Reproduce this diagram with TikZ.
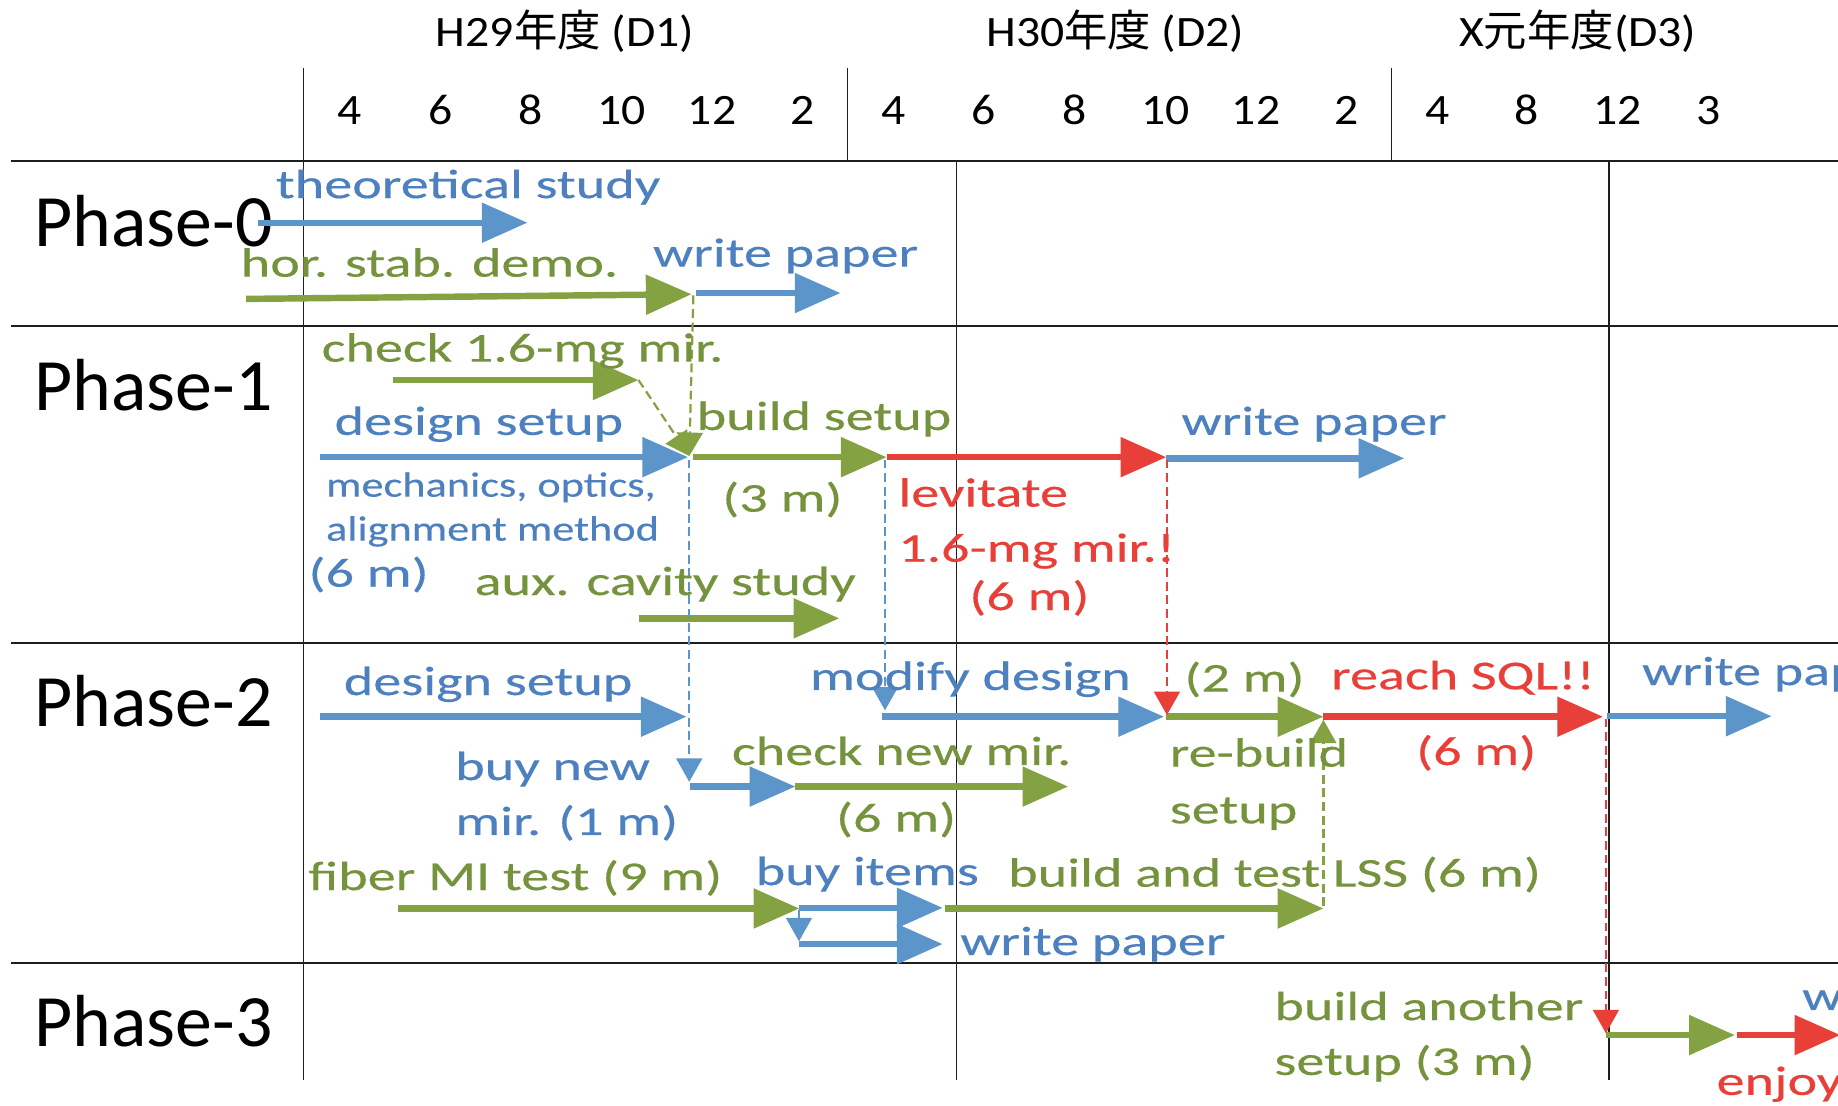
\documentclass[tikz,border=0pt]{standalone}
\usepackage{fontspec}
\setmainfont{Carlito}
\newfontfamily\headfont[FakeStretch=1.1]{Carlito}
\newfontfamily\jpfont{Noto Sans CJK JP}
\newfontfamily\taskfont[FakeStretch=1.37,FakeBold=0.3]{Carlito}
\newfontfamily\notefont[FakeStretch=1.26,FakeBold=0.3]{Carlito}
\usetikzlibrary{arrows.meta}

\definecolor{bluearr}{RGB}{91,149,201}
\definecolor{bluetxt}{RGB}{77,128,190}
\definecolor{greenarr}{RGB}{132,162,66}
\definecolor{greentxt}{RGB}{117,146,60}
\definecolor{redarr}{RGB}{232,64,56}
\definecolor{gridcol}{RGB}{30,30,30}

\tikzset{
  head/.style={inner sep=0pt, anchor=base, font=\headfont\fontsize{18.5}{22}\selectfont},
  month/.style={inner sep=0pt, anchor=base, font=\headfont\fontsize{18.5}{22}\selectfont},
  phaselbl/.style={inner sep=0pt, anchor=base west, font=\fontsize{31.5}{36}\selectfont},
  task/.style={inner sep=0pt, anchor=base west, font=\taskfont\fontsize{17.5}{21}\selectfont},
  note/.style={inner sep=0pt, anchor=base west, font=\notefont\fontsize{15}{18}\selectfont},
  bluelbl/.style={task, text=bluetxt},
  greenlbl/.style={task, text=greentxt},
  redlbl/.style={task, text=redarr},
  bar/.style={line width=2.75pt, -{Triangle[length=19.5pt,width=16.5pt]}},
  link/.style={line width=0.95pt, dash pattern=on 3.8pt off 2pt, -{Triangle[length=10pt,width=11pt]}},
  gridline/.style={draw=gridcol, line width=0.7pt},
  phaseline/.style={draw=gridcol, line width=1.1pt},
}

\begin{document}
\begin{tikzpicture}[x=0.5pt, y=-0.5pt]
\useasboundingbox (0,0) rectangle (1568,943);
\fill[white] (0,0) rectangle (1568,943);
\clip (0,0) rectangle (1568,943);

% ---- table grid ----
\draw[gridline] (259,57.7) -- (259,921);
\draw[gridline] (723,57.7) -- (723,137);
\draw[gridline] (1187,57.7) -- (1187,137);
\draw[gridline] (816,137) -- (816,921);
\draw[gridline] (1372.5,137) -- (1372.5,921);
\draw[phaseline] (9,137.5) -- (1568,137.5);
\draw[phaseline] (9,278) -- (1568,278);
\draw[phaseline] (9,548.5) -- (1568,548.5);
\draw[phaseline] (9,821.5) -- (1568,821.5);

% ---- fiscal years and months ----
\node[head] (fy1) at (482,39.8) {H29{\jpfont 年度} (D1)};
\node[head] (fy2) at (951.5,39.8) {H30{\jpfont 年度} (D2)};
\node[head] (fy3) at (1346,39.8) {X{\jpfont 元年度}(D3)};
\foreach \x/\m [count=\i] in {298/4, 375.5/6, 453/8, 530.5/10, 607.5/12, 684.5/2,
    762/4, 839/6, 916.5/8, 994.5/10, 1071.5/12, 1148.5/2,
    1226/4, 1302.5/8, 1380/12, 1458/3}
  \node[month] (mon\i) at (\x,105.8) {\m};

% ---- phase labels ----
\node[phaselbl] (ph0) at (29,210.4) {Phase-0};
\node[phaselbl] (ph1) at (29,350.3) {Phase-1};
\node[phaselbl] (ph2) at (29,620) {Phase-2};
\node[phaselbl] (ph3) at (29,893) {Phase-3};

% ---- task end points ----
% Phase-0
\coordinate (t0s) at (220,190);    \coordinate (t0e) at (450,190);
\coordinate (h0s) at (210,255);    \coordinate (h0e) at (590,251);
\coordinate (w0s) at (594,250);    \coordinate (w0e) at (717,250);
\coordinate (h0d) at (591.5,252);
% Phase-1
\coordinate (c1s) at (335.5,324.2); \coordinate (c1e) at (544.7,324.2);
\coordinate (d1s) at (272.8,390);   \coordinate (d1e) at (587,390);
\coordinate (j1) at (588,389);
\coordinate (b1s) at (591,390);     \coordinate (b1e) at (756.4,390);
\coordinate (l1s) at (756.4,390);   \coordinate (l1e) at (995,390);
\coordinate (w1s) at (995,391);     \coordinate (w1e) at (1198,391);
\coordinate (a1s) at (544.7,527.5); \coordinate (a1e) at (716,527.5);
\coordinate (d1d) at (588,392);     \coordinate (b1d) at (755,392);
\coordinate (l1d) at (995.5,392);
% Phase-2
\coordinate (d2s) at (272.8,611.4); \coordinate (d2e) at (585.7,611.4);
\coordinate (n2t) at (588,667);
\coordinate (n2s) at (588.6,671);   \coordinate (n2e) at (678.5,671);
\coordinate (k2s) at (678.5,671);   \coordinate (k2e) at (911.3,671);
\coordinate (m2t) at (755,606);
\coordinate (m2s) at (752,611.4);   \coordinate (m2e) at (993,611.4);
\coordinate (r2t) at (995.5,610);
\coordinate (r2s) at (995,611.4);   \coordinate (r2e) at (1129,611.4);
\coordinate (q2s) at (1129,611.4);  \coordinate (q2e) at (1367.5,611.4);
\coordinate (p2s) at (1370.6,611);  \coordinate (p2e) at (1511.4,611);
\coordinate (q2d) at (1370,613);
\coordinate (f2s) at (339.4,775);   \coordinate (f2e) at (681.9,775);
\coordinate (i2s) at (681.8,774.5); \coordinate (i2e) at (804.2,774.5);
\coordinate (i2d) at (681.6,776);   \coordinate (v2t) at (681.6,803);
\coordinate (v2s) at (681.6,805.4); \coordinate (v2e) at (804.2,805.4);
\coordinate (s2s) at (806,775);     \coordinate (s2e) at (1129,775);
\coordinate (s2d) at (1129,773);    \coordinate (s2t) at (1129,614);
% Phase-3
\coordinate (g3t) at (1370,881.5);
\coordinate (g3s) at (1370,883);    \coordinate (g3e) at (1480,883);
\coordinate (e3s) at (1481.5,883);  \coordinate (e3e) at (1570,883);

% ---- task bars ----
\draw[bar, bluearr]  (t0s) -- (t0e);
\draw[bar, greenarr] (h0s) -- (h0e);
\draw[bar, bluearr]  (w0s) -- (w0e);
\draw[bar, greenarr] (c1s) -- (c1e);
\draw[bar, bluearr]  (d1s) -- (d1e);
\draw[bar, greenarr] (b1s) -- (b1e);
\draw[bar, redarr]   (l1s) -- (l1e);
\draw[bar, bluearr]  (w1s) -- (w1e);
\draw[bar, greenarr] (a1s) -- (a1e);
\draw[bar, bluearr]  (d2s) -- (d2e);
\draw[bar, bluearr]  (n2s) -- (n2e);
\draw[bar, greenarr] (k2s) -- (k2e);
\draw[bar, bluearr]  (m2s) -- (m2e);
\draw[bar, greenarr] (r2s) -- (r2e);
\draw[bar, redarr]   (q2s) -- (q2e);
\draw[bar, bluearr]  (p2s) -- (p2e);
\draw[bar, greenarr] (f2s) -- (f2e);
\draw[bar, bluearr]  (i2s) -- (i2e);
\draw[bar, bluearr]  (v2s) -- (v2e);
\draw[bar, greenarr] (s2s) -- (s2e);
\draw[bar, greenarr] (g3s) -- (g3e);
\draw[bar, redarr]   (e3s) -- (e3e);

% ---- dependencies ----
\draw[link, greenarr] (h0d) -- (j1);
\draw[link, greenarr] (c1e) -- (j1);
\draw[link, bluearr]  (d1d) -- (n2t);
\draw[link, bluearr]  (b1d) -- (m2t);
\draw[link, redarr]   (l1d) -- (r2t);
\draw[link, redarr]   (q2d) -- (g3t);
\draw[link, greenarr] (s2d) -- (s2t);
\draw[bluearr, line width=0.95pt, -{Triangle[length=10pt,width=11pt]}] (i2d) -- (v2t);

% ---- task labels ----
\node[bluelbl]  (lb01) at (235,169) {theoretical study};
\node[greenlbl] (lb02) at (205,236) {hor. stab. demo.};
\node[bluelbl]  (lb03) at (556.7,227.5) {write paper};

\node[greenlbl] (lb11) at (274,308.5) {check 1.6-mg mir.};
\node[bluelbl]  (lb12) at (285,371) {design setup};
\node[note, text=bluetxt] (lb13) at (277.8,423.7) {mechanics, optics,};
\node[note, text=bluetxt] (lb14) at (277.8,461.2) {alignment method};
\node[bluelbl]  (lb15) at (262.8,500.5) {(6 m)};
\node[greenlbl] (lb16) at (594,366.8) {build setup};
\node[greenlbl] (lb17) at (615.8,436.5) {(3 m)};
\node[redlbl]   (lb18) at (766,432.2) {levitate};
\node[redlbl]   (lb19) at (766,479.2) {1.6-mg mir.!};
\node[redlbl]   (lb1a) at (826.5,520.4) {(6 m)};
\node[bluelbl]  (lb1b) at (1007.5,371) {write paper};
\node[greenlbl] (lb1c) at (404.5,507.6) {aux. cavity study};

\node[bluelbl]  (lb21) at (292.9,592.9) {design setup};
\node[bluelbl]  (lb22) at (388,665.4) {buy new};
\node[bluelbl]  (lb23) at (388,712.3) {mir. (1 m)};
\node[greenlbl] (lb24) at (624,652.6) {check new mir.};
\node[greenlbl] (lb25) at (712.8,709.5) {(6 m)};
\node[bluelbl]  (lb26) at (690.6,588.6) {modify design};
\node[greenlbl] (lb27) at (1010,590) {(2 m)};
\node[greenlbl] (lb28) at (997.5,654) {re-build};
\node[greenlbl] (lb29) at (997.5,702.4) {setup};
\node[redlbl]   (lb2a) at (1135.2,588) {reach SQL!!};
\node[redlbl]   (lb2b) at (1207.7,652.6) {(6 m)};
\node[bluelbl]  (lb2c) at (1400.5,584.4) {write paper};
\node[greenlbl] (lb2d) at (262.8,759.3) {fiber MI test (9 m)};
\node[bluelbl]  (lb2e) at (644.3,755) {buy items};
\node[greenlbl] (lb2f) at (859.7,756.4) {build and test LSS (6 m)};
\node[bluelbl]  (lb2g) at (818.8,814.7) {write paper};

\node[greenlbl] (lb31) at (1086.8,870.2) {build another};
\node[greenlbl] (lb32) at (1086.8,917) {setup (3 m)};
\node[bluelbl]  (lb33) at (1537,861.6) {w};
\node[redlbl]   (lb34) at (1464,934) {enjoy};
\end{tikzpicture}
\end{document}
